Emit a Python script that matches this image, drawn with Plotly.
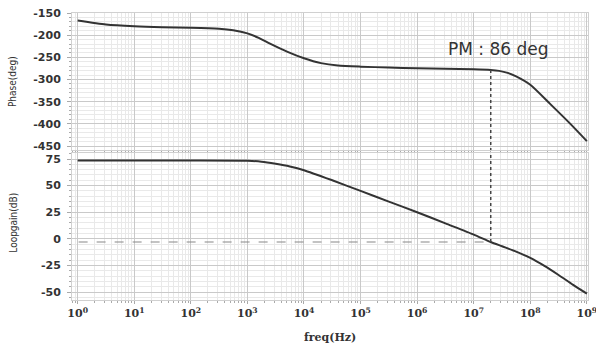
import plotly.graph_objects as go
from plotly.subplots import make_subplots

# ---- data ----
phase_logf = [0, 0.5, 1, 1.5, 2, 2.5, 2.75, 3, 3.2, 3.4, 3.7, 4, 4.3, 4.6, 5, 5.5, 6, 6.5, 7, 7.3, 7.45, 7.6, 7.75, 8, 8.35, 8.7, 9]
phase_deg = [-167, -176, -180, -182, -183, -185.5, -189, -196, -206, -219, -237, -252, -263, -268.5, -271, -273, -274.5, -276, -277, -278.5, -280.5, -285, -293, -312, -355, -399, -439]

gain_logf = [0, 1, 2, 3, 3.25, 3.5, 3.75, 4, 4.5, 5, 5.5, 6, 6.5, 7, 7.3, 7.5, 7.75, 8, 8.25, 8.5, 8.75, 9]
loopgain_db = [73.5, 73.5, 73.5, 73.3, 72.5, 70.5, 68, 64.5, 55, 45, 35, 25, 14.5, 4, -3, -7, -12, -18, -25.5, -34, -43, -51.5]

phase_freq = [10 ** v for v in phase_logf]
gain_freq = [10 ** v for v in gain_logf]

ugf = 2e7            # unity-gain crossover frequency
ugf_phase = -278.5   # phase at crossover
ugf_gain = -3        # level of dashed reference line
pm_label = "PM : 86 deg"

x_tickvals = [10 ** i for i in range(10)]
x_ticktext = ["<b>10<sup>%d</sup></b>" % i for i in range(10)]
phase_ticks = [-150, -200, -250, -300, -350, -400, -450]
gain_ticks = [75, 50, 25, 0, -25, -50]

# ---- figure ----
fig = make_subplots(rows=2, cols=1, shared_xaxes=True)

line_col = "#333333"
fig.add_trace(go.Scatter(x=phase_freq, y=phase_deg, mode="lines",
                         line=dict(color=line_col, width=2, shape="spline", smoothing=0.6),
                         showlegend=False, hoverinfo="skip"), row=1, col=1)
fig.add_trace(go.Scatter(x=gain_freq, y=loopgain_db, mode="lines",
                         line=dict(color=line_col, width=2, shape="spline", smoothing=0.6),
                         showlegend=False, hoverinfo="skip"), row=2, col=1)

# dotted vertical marker through both panels
fig.add_trace(go.Scatter(x=[ugf, ugf], y=[ugf_phase, -470], mode="lines",
                         line=dict(color="#444444", width=1.5, dash="dot"), showlegend=False,
                         hoverinfo="skip"), row=1, col=1)
fig.add_trace(go.Scatter(x=[ugf, ugf], y=[90, ugf_gain], mode="lines",
                         line=dict(color="#444444", width=1.5, dash="dot"), showlegend=False,
                         hoverinfo="skip"), row=2, col=1)
# dashed horizontal line
fig.add_trace(go.Scatter(x=[0.5, ugf], y=[ugf_gain, ugf_gain], mode="lines",
                         line=dict(color="#888888", width=1.2, dash="dash"), showlegend=False,
                         hoverinfo="skip"), row=2, col=1)

major_grid = "#c9c9c9"
minor_grid = "#e9e9e9"
txt = "#333333"
tick_font = dict(family="DejaVu Sans", size=11, color=txt)

fig.update_xaxes(type="log", range=[-0.1, 9.02], showgrid=True, gridcolor=major_grid, gridwidth=1,
                 minor=dict(dtick="D1", showgrid=True, gridcolor=minor_grid, ticks="outside", ticklen=2,
                            tickcolor="#aaaaaa"),
                 zeroline=False, tickvals=x_tickvals, ticktext=x_ticktext,
                 showline=True, linecolor="#d0d0d0", mirror=True, automargin=False,
                 ticklabeloverflow="allow")
fig.update_xaxes(showticklabels=False, row=1, col=1)
fig.update_xaxes(row=2, col=1, ticks="outside", ticklen=3, tickcolor="#aaaaaa",
                 tickfont=dict(family="DejaVu Serif", size=11, color=txt))

yminor = dict(showgrid=True, gridcolor=minor_grid, ticks="outside", ticklen=2, tickcolor="#aaaaaa")
fig.update_yaxes(row=1, col=1, domain=[0.5226, 1.0], range=[-459, -150], tickvals=phase_ticks,
                 ticktext=["<b>%d</b>" % v for v in phase_ticks], tickfont=tick_font,
                 showgrid=True, gridcolor=major_grid, zeroline=False, minor=dict(dtick=10, **yminor),
                 ticks="outside", ticklen=4, tickcolor="#aaaaaa", ticklabelstandoff=4,
                 showline=True, linecolor="#d0d0d0", mirror=True, automargin=False,
                 ticklabeloverflow="allow")
fig.update_yaxes(row=2, col=1, domain=[0.0, 0.512], range=[-57.5, 80.6], tickvals=gain_ticks,
                 ticktext=["<b>%d</b>" % v for v in gain_ticks], tickfont=tick_font,
                 showgrid=True, gridcolor=major_grid, zeroline=False, minor=dict(dtick=5, **yminor),
                 ticks="outside", ticklen=4, tickcolor="#aaaaaa", ticklabelstandoff=4,
                 showline=True, linecolor="#d0d0d0", mirror=True, automargin=False,
                 ticklabeloverflow="allow")

title_font = dict(family="Liberation Sans Narrow, DejaVu Sans Condensed, Arial Narrow", size=10, color=txt)
fig.add_annotation(x=-0.114, y=0.76, xref="paper", yref="paper", text="Phase(deg)", textangle=-90,
                   showarrow=False, font=title_font, xanchor="center", yanchor="middle")
fig.add_annotation(x=-0.114, y=0.27, xref="paper", yref="paper", text="Loopgain(dB)", textangle=-90,
                   showarrow=False, font=title_font, xanchor="center", yanchor="middle")
fig.add_annotation(x=0.5, y=-0.132, xref="paper", yref="paper", text="<b>freq(Hz)</b>",
                   showarrow=False, font=dict(family="DejaVu Serif", size=11, color=txt),
                   xanchor="center", yanchor="middle")

fig.add_annotation(x=7.43, y=-232, xref="x", yref="y", text=pm_label, showarrow=False,
                   font=dict(family="DejaVu Sans", size=17, color=txt))

fig.update_layout(width=596, height=347, margin=dict(l=72, r=8, t=13, b=47, autoexpand=False),
                  plot_bgcolor="white", paper_bgcolor="white", showlegend=False, hovermode=False)

fig.write_html("out.html", config={"displayModeBar": False},
               post_script="document.body.style.margin='0px';")
